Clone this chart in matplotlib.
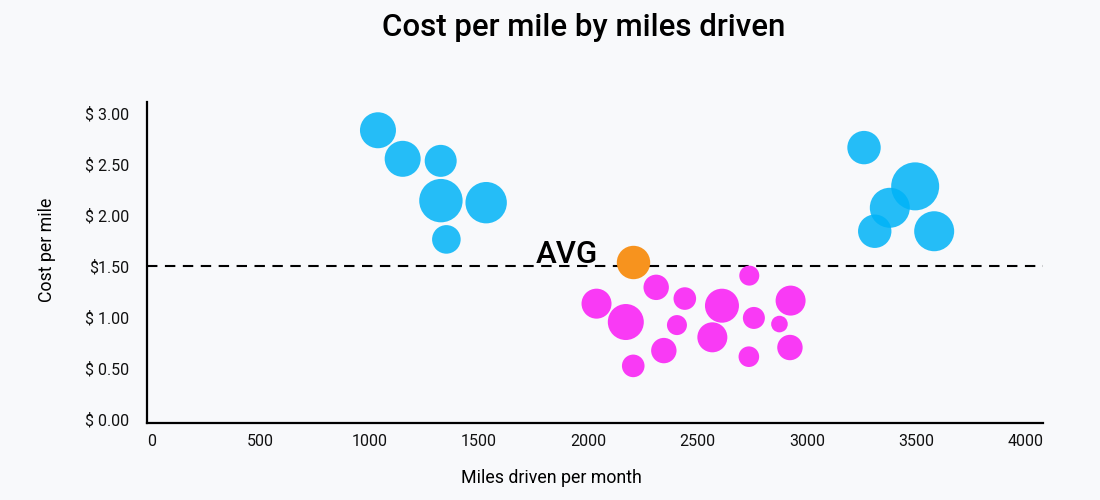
import numpy as np
import matplotlib
matplotlib.use("Agg")
import matplotlib.pyplot as plt

plt.rcParams['font.family'] = ['Roboto', 'DejaVu Sans']

# miles driven per month, cost per mile, bubble weight
high_miles = [1037, 1150, 1324, 1325, 1532, 1350, 3261, 3495, 3379, 3310, 3582]
high_cost = [2.83, 2.55, 2.53, 2.14, 2.12, 1.76, 2.66, 2.28, 2.07, 1.84, 1.84]
high_weight = [18, 18, 16, 21.7, 20.7, 14.3, 16.7, 24, 20, 16.7, 20]

low_miles = [2736, 2310, 2441, 2037, 2611, 2925, 2171, 2757, 2405, 2874,
             2567, 2345, 2734, 2922, 2205]
low_cost = [1.405, 1.29, 1.18, 1.13, 1.11, 1.16, 0.95, 0.99, 0.92, 0.93,
            0.80, 0.67, 0.61, 0.70, 0.52]
low_weight = [10, 12.7, 11.3, 15, 17, 15, 18, 11, 10, 8.3,
              15, 12.7, 10.3, 12.7, 11.3]

avg_miles = [2203]
avg_cost = [1.54]
avg_weight = [16.7]
avg_line = 1.5

x_ticks = [0, 500, 1000, 1500, 2000, 2500, 3000, 3500, 4000]
y_ticks = [0, 0.5, 1.0, 1.5, 2.0, 2.5, 3.0]
y_labels = ['$ 0.00', '$ 0.50', '$ 1.00', '$1.50', '$ 2.00', '$ 2.50', '$ 3.00']

dpi = 100


def area(w):
    # weight -> marker area (points^2)
    return (2 * np.array(w) * 72 / dpi) ** 2


fig = plt.figure(figsize=(11, 5), dpi=dpi, facecolor='#f8f9fb')
ax = fig.add_axes([0.1336, 0.154, 0.8146, 0.6426])
ax.set_facecolor('none')

ax.axhline(avg_line, color='black', lw=1.5, ls=(0, (5, 3.6)), zorder=1)

ax.scatter(high_miles, high_cost, s=area(high_weight), color=(0, 0.70, 0.97),
           alpha=0.85, linewidths=0, zorder=3)
ax.scatter(low_miles, low_cost, s=area(low_weight), color='#f93af5',
           linewidths=0, zorder=3)
ax.scatter(avg_miles, avg_cost, s=area(avg_weight), color='#f7931e',
           linewidths=0, zorder=4)

ax.text(1900, 1.53, 'AVG', fontsize=22.5, fontweight='medium', ha='center',
        va='baseline', color='black', zorder=5)

ax.set_xlim(-20, 4080)
ax.set_ylim(-0.04, 3.11)
ax.set_xticks(x_ticks)
ax.set_xticklabels([str(t) for t in x_ticks])
ax.set_yticks(y_ticks)
ax.set_yticklabels(y_labels)
ax.tick_params(length=0, labelsize=11.5, colors='#111111')
ax.tick_params(axis='x', labelsize=11.5, pad=8)
ax.tick_params(axis='y', pad=13)

for side in ['top', 'right']:
    ax.spines[side].set_visible(False)
for side in ['left', 'bottom']:
    ax.spines[side].set_linewidth(1.6)
    ax.spines[side].set_color('black')

fig.text(0.531, 0.944, 'Cost per mile by miles driven', fontsize=22.5,
         fontweight='medium', ha='center', va='center')
fig.text(0.501, 0.044, 'Miles driven per month', fontsize=12.8,
         ha='center', va='center')
fig.text(0.0425, 0.5, 'Cost per mile', fontsize=12.8, rotation=90,
         ha='center', va='center')

fig.savefig('out.png', dpi=dpi, facecolor=fig.get_facecolor())
